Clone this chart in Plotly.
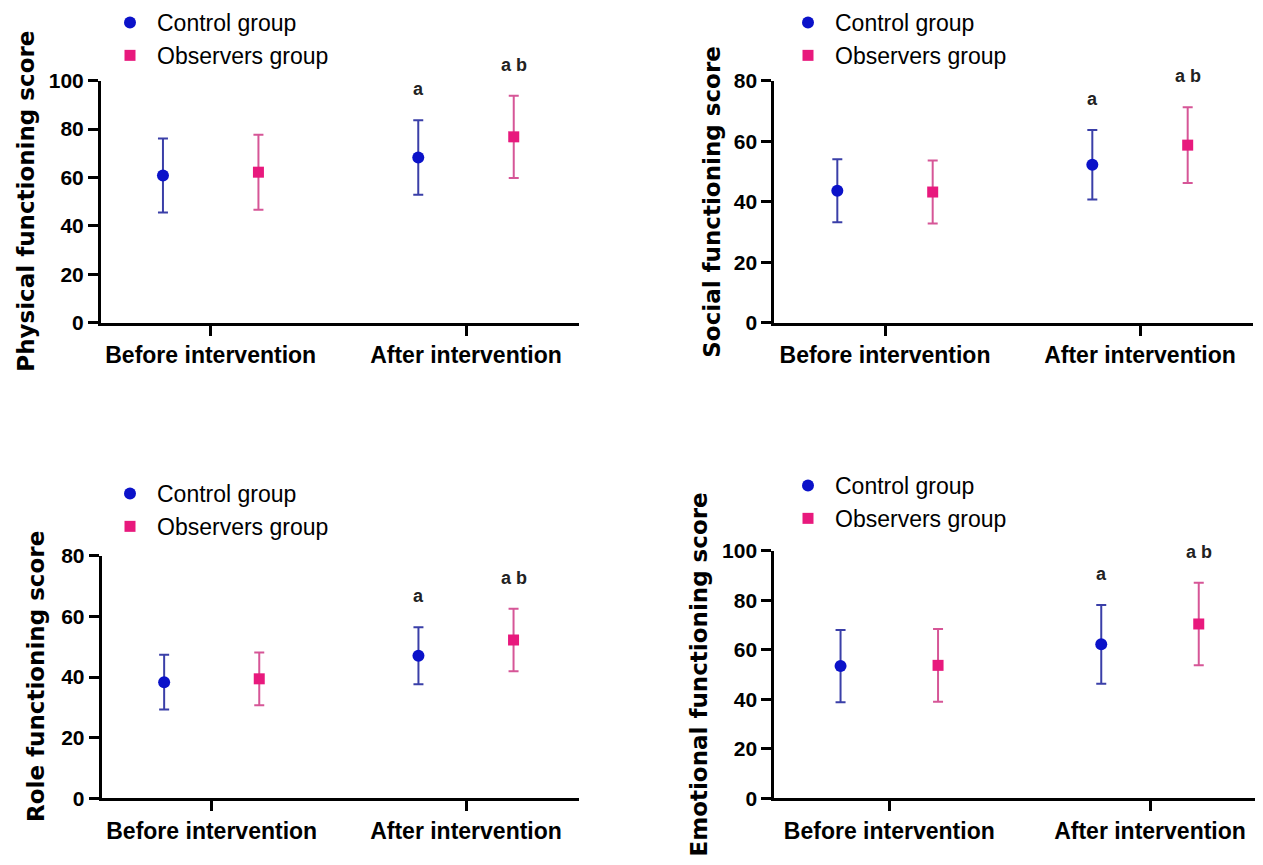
import plotly.graph_objects as go

# ---------------- data ----------------
categories = ["Before intervention", "After intervention"]
groups = ["Control group", "Observers group"]

physical_control_mean = [60.8, 68.3]
physical_control_sd = [15.3, 15.4]
physical_observer_mean = [62.2, 76.8]
physical_observer_sd = [15.5, 17.0]

social_control_mean = [43.6, 52.2]
social_control_sd = [10.4, 11.5]
social_observer_mean = [43.2, 58.7]
social_observer_sd = [10.4, 12.5]

role_control_mean = [38.3, 47.0]
role_control_sd = [9.0, 9.4]
role_observer_mean = [39.4, 52.2]
role_observer_sd = [8.7, 10.3]

emotional_control_mean = [53.4, 62.2]
emotional_control_sd = [14.6, 15.9]
emotional_observer_mean = [53.7, 70.4]
emotional_observer_sd = [14.7, 16.7]

significance_labels = ["a", "a b"]  # shown above the after-intervention points

panel_titles = ["Physical functioning score", "Social functioning score",
                "Role functioning score", "Emotional functioning score"]
panel_ymax = [100, 80, 80, 100]

panels = [
    (physical_control_mean, physical_control_sd, physical_observer_mean, physical_observer_sd),
    (social_control_mean, social_control_sd, social_observer_mean, social_observer_sd),
    (role_control_mean, role_control_sd, role_observer_mean, role_observer_sd),
    (emotional_control_mean, emotional_control_sd, emotional_observer_mean, emotional_observer_sd),
]

# ---------------- layout geometry (screen pixels) ----------------
PAGE_MARGIN = 8            # default body margin of the html page
W, H = 1263 - PAGE_MARGIN, 865 - PAGE_MARGIN


def fx(px):
    return (px - PAGE_MARGIN) / W


def fy(py):
    return 1 - (py - PAGE_MARGIN) / H


# (x_left, x_right, y_top, y_bottom, cat0_px, cat1_px)
geom = [
    (101.0, 579.0, 80.7, 322.7, 210.7, 466.0),
    (774.3, 1253.0, 80.7, 322.7, 885.0, 1140.0),
    (101.7, 579.3, 555.7, 798.3, 211.7, 466.0),
    (774.3, 1263.0, 550.7, 798.3, 889.3, 1150.0),
]
title_x_px = [26, 712, 36, 698]
legend_pos_px = [(103, 1), (781, 1), (103, 472), (781, 464)]

GROUP_OFFSET = 0.187
CONTROL_MARKER = "#0B12C9"
CONTROL_BAR = "#3A3FA8"
OBS_MARKER = "#E8197D"
OBS_BAR = "#D65697"

TICK_FONT = dict(family="Liberation Sans, Arial, sans-serif", size=21, color="black", weight="bold")
XTICK_FONT = dict(family="Liberation Sans, Arial, sans-serif", size=23, color="black", weight="bold")
SIG_FONT = dict(family="Liberation Sans, Arial", size=18, color="#222", weight="bold")

fig = go.Figure()
annotations = []
layout_axes = {}

for p, (cm, cs, om, osd) in enumerate(panels):
    idx = "" if p == 0 else str(p + 1)
    xa, ya = "x" + idx, "y" + idx
    leg = "legend" + idx
    xl, xr, yt, yb, c0, c1 = geom[p]
    ppu = (c1 - c0)
    xrange = [(xl - c0) / ppu, (min(xr, 1263) - c0) / ppu]

    xs_c = [i - GROUP_OFFSET for i in range(len(categories))]
    xs_o = [i + GROUP_OFFSET for i in range(len(categories))]

    fig.add_trace(go.Scatter(
        x=xs_c, y=cm, mode="markers", name=groups[0], legend=leg,
        xaxis=xa, yaxis=ya,
        marker=dict(symbol="circle", size=12, color=CONTROL_MARKER),
        error_y=dict(type="data", array=cs, visible=True, color=CONTROL_BAR, thickness=2, width=5),
        cliponaxis=False,
    ))
    fig.add_trace(go.Scatter(
        x=xs_o, y=om, mode="markers", name=groups[1], legend=leg,
        xaxis=xa, yaxis=ya,
        marker=dict(symbol="square", size=11, color=OBS_MARKER),
        error_y=dict(type="data", array=osd, visible=True, color=OBS_BAR, thickness=2, width=5),
        cliponaxis=False,
    ))

    # significance labels above after-intervention error bars
    annotations.append(dict(x=xs_c[1], y=cm[1] + cs[1], xref=xa, yref=ya, text=significance_labels[0],
                            showarrow=False, yshift=31, yanchor="middle", font=SIG_FONT))
    annotations.append(dict(x=xs_o[1], y=om[1] + osd[1], xref=xa, yref=ya, text=significance_labels[1],
                            showarrow=False, yshift=31, yanchor="middle", font=SIG_FONT))

    # y-axis title as rotated text
    annotations.append(dict(x=fx(title_x_px[p]), y=fy((yt + yb) / 2), xref="paper", yref="paper",
                            text=panel_titles[p], textangle=-90, showarrow=False,
                            xanchor="center", yanchor="middle",
                            font=dict(family="DejaVu Sans", size=23, color="black", weight="bold")))

    xkey = "xaxis" + idx
    ykey = "yaxis" + idx
    layout_axes[xkey] = dict(
        domain=[fx(xl), min(fx(xr), 1.0)], range=xrange, anchor=ya,
        tickvals=list(range(len(categories))), ticktext=categories,
        showline=True, linecolor="black", linewidth=3,
        ticks="outside", ticklen=10, tickwidth=3, tickcolor="black",
        showgrid=False, zeroline=False, tickfont=XTICK_FONT, fixedrange=True,
        automargin=False,
    )
    layout_axes[ykey] = dict(
        domain=[fy(yb), fy(yt)], range=[0, panel_ymax[p]], anchor=xa,
        tick0=0, dtick=20,
        showline=True, linecolor="black", linewidth=3,
        ticks="outside", ticklen=10, tickwidth=2.5, tickcolor="black",
        showgrid=False, zeroline=False, tickfont=TICK_FONT, fixedrange=True,
        automargin=False,
    )
    lx, ly = legend_pos_px[p]
    layout_axes[leg] = dict(
        x=fx(lx), y=fy(ly), xanchor="left", yanchor="top", xref="paper", yref="paper",
        bgcolor="rgba(0,0,0,0)", borderwidth=0,
        font=dict(family="Liberation Sans, Arial", size=23, color="black"),
        itemwidth=44, tracegroupgap=0,
    )

fig.update_layout(
    width=W, height=H, margin=dict(l=0, r=0, t=0, b=0, pad=0, autoexpand=False),
    paper_bgcolor="white", plot_bgcolor="white",
    annotations=annotations, showlegend=True,
    **layout_axes,
)

fig.write_html("out.html")
